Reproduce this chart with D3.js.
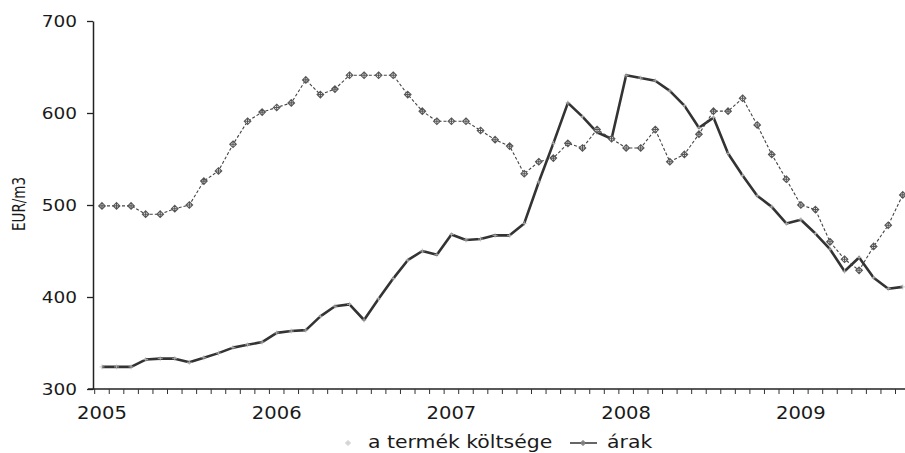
<!DOCTYPE html>
<html>
<head>
<meta charset="utf-8">
<script src="https://cdn.jsdelivr.net/npm/d3@7"></script>
<style>
  html, body { margin: 0; padding: 0; background: #fff; }
  svg { display: block; }
  text { font-family: "DejaVu Sans", sans-serif; fill: #1a1a1a; }
</style>
</head>
<body>
<svg id="chart" width="905" height="453"></svg>
<script>
const months = [
  "2005-01","2005-02","2005-03","2005-04","2005-05","2005-06","2005-07","2005-08","2005-09","2005-10","2005-11","2005-12",
  "2006-01","2006-02","2006-03","2006-04","2006-05","2006-06","2006-07","2006-08","2006-09","2006-10","2006-11","2006-12",
  "2007-01","2007-02","2007-03","2007-04","2007-05","2007-06","2007-07","2007-08","2007-09","2007-10","2007-11","2007-12",
  "2008-01","2008-02","2008-03","2008-04","2008-05","2008-06","2008-07","2008-08","2008-09","2008-10","2008-11","2008-12",
  "2009-01","2009-02","2009-03","2009-04","2009-05","2009-06","2009-07","2009-08"
];
// a termék költsége (dashed, diamond markers)
const cost = [
  499,499,499,490,490,496,500,526,537,566,591,601,
  606,611,636,620,626,641,641,641,641,620,602,591,
  591,591,581,571,564,534,547,551,567,562,582,572,
  562,562,582,547,555,577,602,602,616,587,555,528,
  500,495,460,441,429,455,478,511
];
// árak (solid)
const prices = [
  324,324,324,332,333,333,329,334,339,345,348,351,
  361,363,364,379,390,392,375,398,420,440,450,446,
  468,462,463,467,467,480,525,567,611,596,579,572,
  641,638,635,624,608,584,595,556,532,510,498,480,
  484,469,452,428,443,421,409,411
];
const yTicks = [300, 400, 500, 600, 700];
const yearLabels = ["2005","2006","2007","2008","2009"];
const seriesNames = ["a termék költsége", "árak"];
const yTitle = "EUR/m3";

const svg = d3.select("#chart");
const W = 905, H = 453;
const left = 93, axisY = 389;
const bandW = 14.56;

const x = d3.scaleBand().domain(months).range([left + 1.7, left + 1.7 + months.length * bandW]).padding(0);
const cx = m => x(m) + x.bandwidth() / 2;
const y = d3.scaleLinear().domain([300, 700]).range([axisY, 21]);

function stretch(sel, f) {
  sel.each(function() {
    const len = this.getComputedTextLength();
    d3.select(this).attr("textLength", len * f).attr("lengthAdjust", "spacingAndGlyphs");
  });
}

// Y axis
const yAxis = svg.append("g")
  .attr("transform", `translate(${left},0)`)
  .call(d3.axisLeft(y).tickValues(yTicks).tickSize(6).tickSizeOuter(0).tickPadding(10).tickFormat(d3.format("d")));
yAxis.select(".domain").attr("stroke", "#222").attr("stroke-width", 1.5);
yAxis.selectAll(".tick line").attr("stroke", "#222").attr("stroke-width", 1.3);
yAxis.selectAll(".tick text").style("font-size", "16.5px").attr("fill", "#1a1a1a").call(stretch, 1.12);

// X axis line
svg.append("line")
  .attr("x1", left - 5).attr("x2", W).attr("y1", axisY).attr("y2", axisY)
  .attr("stroke", "#222").attr("stroke-width", 1.6);

// X tick marks at month boundaries
const boundaries = months.map(m => x(m)).concat([x(months[months.length - 1]) + x.bandwidth()]);
svg.append("g").selectAll("line").data(boundaries.filter(b => b < W)).join("line")
  .attr("x1", d => d).attr("x2", d => d)
  .attr("y1", axisY).attr("y2", axisY + 5)
  .attr("stroke", "#333").attr("stroke-width", 1);

// Year labels at January
svg.append("g").selectAll("text").data(yearLabels).join("text")
  .attr("x", d => cx(d + "-01"))
  .attr("y", 419)
  .attr("text-anchor", "middle")
  .style("font-size", "17px")
  .text(d => d)
  .call(stretch, 1.15);

// Y title
svg.append("text")
  .attr("transform", `translate(25,204) rotate(-90)`)
  .attr("text-anchor", "middle")
  .style("font-size", "17px")
  .style("font-family", "'DejaVu Sans Condensed', 'DejaVu Sans', sans-serif")
  .attr("textLength", 54).attr("lengthAdjust", "spacingAndGlyphs")
  .text(yTitle);

// Solid line (árak)
const lineP = d3.line().x((d, i) => cx(months[i])).y(d => y(d));
svg.append("path").datum(prices)
  .attr("d", lineP)
  .attr("fill", "none").attr("stroke", "#333").attr("stroke-width", 2.6)
  .attr("stroke-linejoin", "round");
svg.append("g").selectAll("path").data(prices).join("path")
  .attr("d", (d, i) => { const px = cx(months[i]), py = y(d); return `M${px-2.5},${py}H${px+2.5}M${px},${py-2.5}V${py+2.5}`; })
  .attr("stroke", "#bbb").attr("stroke-width", 0.8).attr("fill", "none");

// Dashed line (cost)
svg.append("path").datum(cost)
  .attr("d", lineP)
  .attr("fill", "none").attr("stroke", "#444").attr("stroke-width", 1.1)
  .attr("stroke-dasharray", "3,2");

const diamond = (px, py, r) => `M${px},${py-r}L${px+r},${py}L${px},${py+r}L${px-r},${py}Z M${px-r*0.7},${py}H${px+r*0.7} M${px},${py-r*0.7}V${py+r*0.7}`;
svg.append("g").selectAll("path").data(cost).join("path")
  .attr("d", (d, i) => diamond(cx(months[i]), y(d), 3.3))
  .attr("fill", "#fff").attr("stroke", "#555").attr("stroke-width", 1.1);

// Legend
const lg = svg.append("g");
lg.append("path").attr("d", diamond(348, 443, 2.5)).attr("fill", "#fff").attr("stroke", "#bbb").attr("stroke-width", 0.8);
lg.append("text").attr("x", 368).attr("y", 448).style("font-size", "17px").text(seriesNames[0]).call(stretch, 1.2);
lg.append("line").attr("x1", 570).attr("x2", 597).attr("y1", 443).attr("y2", 443).attr("stroke", "#333").attr("stroke-width", 1.5);
lg.append("path").attr("d", diamond(583, 443, 2.5)).attr("fill", "#fff").attr("stroke", "#555").attr("stroke-width", 1);
lg.append("text").attr("x", 607).attr("y", 448).style("font-size", "17px").text(seriesNames[1]).call(stretch, 1.2);
</script>
</body>
</html>
